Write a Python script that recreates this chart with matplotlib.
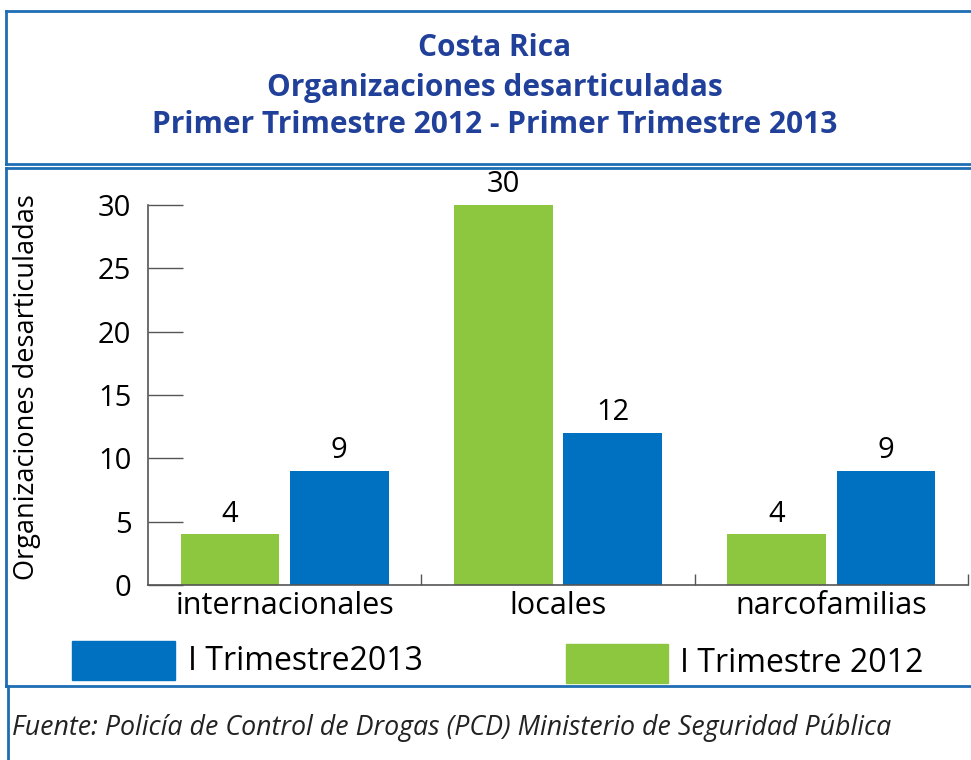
import numpy as np
import matplotlib.pyplot as plt
from matplotlib.lines import Line2D
from matplotlib.patches import Rectangle

categories = ['internacionales', 'locales', 'narcofamilias']
values_2012 = [4, 30, 4]
values_2013 = [9, 12, 9]
yticks = [0, 5, 10, 15, 20, 25, 30]

green = '#8DC63F'
blue = '#0070C0'
title_color = '#21409A'
frame_color = '#1F6DB3'

plt.rcParams['font.family'] = ['Open Sans', 'DejaVu Sans']

fig = plt.figure(figsize=(9.71, 7.6), dpi=100)
W, H = 971, 760


def fx(px):
    return px / W


def fy(py):
    return 1 - py / H


# frames
frame = [
    ((6, 11), (971, 11)), ((6, 164), (971, 164)), ((6, 11), (6, 164)),
    ((6, 168), (971, 168)), ((6, 686), (971, 686)), ((6, 168), (6, 686)),
    ((8, 686), (8, 760)),
]
for (x0, y0), (x1, y1) in frame:
    fig.add_artist(Line2D([fx(x0), fx(x1)], [fy(y0), fy(y1)], color=frame_color, lw=2))

# title
titles = ['Costa Rica', 'Organizaciones desarticuladas', 'Primer Trimestre 2012 - Primer Trimestre 2013']
for t, py in zip(titles, [48, 88, 125]):
    fig.text(fx(495), fy(py), t, ha='center', va='center', fontsize=21.5,
             fontweight='bold', color=title_color)

ax = fig.add_axes([fx(148), fy(585), fx(968) - fx(148), fy(205) - fy(585)])

x = np.arange(len(categories)) + 0.5
w = 0.36
b1 = ax.bar(x - 0.2, values_2012, w, color=green)
b2 = ax.bar(x + 0.2, values_2013, w, color=blue)
for bars, vals in [(b1, values_2012), (b2, values_2013)]:
    for r, v in zip(bars, vals):
        ax.text(r.get_x() + r.get_width() / 2, v + 0.45, str(v), ha='center',
                va='bottom', fontsize=21)

ax.set_xlim(0, 3)
ax.set_ylim(0, 30)
ax.set_yticks(yticks)
ax.tick_params(axis='y', direction='in', length=25, width=1, color='#555555',
               labelsize=21, pad=12)
ax.set_xticks([1, 2, 3])
ax.set_xticklabels([])
ax.tick_params(axis='x', direction='in', length=8, width=1, color='#555555')
ax.set_xticks(x, minor=True)
ax.set_xticklabels(categories, minor=True, fontsize=22)
ax.tick_params(axis='x', which='minor', length=0, pad=4)
for s in ['top', 'right']:
    ax.spines[s].set_visible(False)
for s in ['left', 'bottom']:
    ax.spines[s].set_color('#555555')
    ax.spines[s].set_linewidth(1.2)
ax.set_ylabel('Organizaciones desarticuladas', fontsize=19.5)
ax.yaxis.set_label_coords(-0.13, 0.52)

# legend
fig.add_artist(Rectangle((fx(72), fy(680)), fx(175) - fx(72), fy(641) - fy(680),
                         color=blue, transform=fig.transFigure))
fig.text(fx(188), fy(661), 'I Trimestre2013', ha='left', va='center', fontsize=23)
fig.add_artist(Rectangle((fx(566), fy(683)), fx(668) - fx(566), fy(644) - fy(683),
                         color=green, transform=fig.transFigure))
fig.text(fx(680), fy(664), 'I Trimestre 2012', ha='left', va='center', fontsize=23)

# source
fig.text(fx(12), fy(728), 'Fuente: Policía de Control de Drogas (PCD) Ministerio de Seguridad Pública',
         ha='left', va='center', fontsize=19.3, style='italic', color='#222222')

fig.savefig('out.png', dpi=100)
